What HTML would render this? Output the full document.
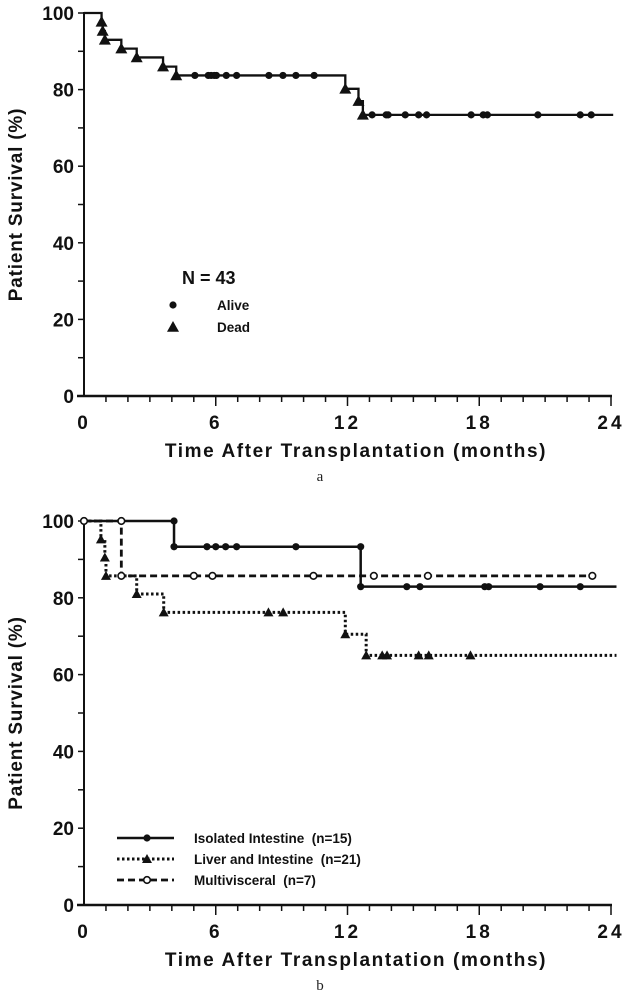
<!DOCTYPE html>
<html><head><meta charset="utf-8">
<style>
html,body{margin:0;padding:0;background:#fff;}
svg{display:block;font-family:"Liberation Sans",Arial,sans-serif;}
.tk{font-size:19px;font-weight:bold;fill:#111;}
.ttl{font-size:19px;font-weight:bold;fill:#111;}
.lg{font-size:13.5px;font-weight:bold;fill:#111;}
</style></head>
<body>
<svg id="chart" width="630" height="997" viewBox="0 0 630 997"></svg>
<script>
// ---- Panel a data ----
const aDeathT = [0.8,0.85,0.95,1.7,2.4,3.6,4.2,11.9,12.5,12.7];
const aDeathS = [97.7,95.3,93.0,90.7,88.4,86.0,83.7,80.2,77.0,73.4];
const aCensT = [5.05,5.66,5.79,5.93,6.03,6.48,6.95,8.42,9.06,9.65,10.48,13.12,13.76,13.85,14.63,15.24,15.6,17.63,18.18,18.37,20.67,22.6,23.1];
const aEnd = 24.1;
// ---- Panel b data ----
const isoDeathT = [4.1,12.6];
const isoDeathS = [93.3,82.9];
const isoCensT = [4.1,5.6,6.0,6.45,6.95,9.65,12.6,14.7,15.3,18.25,18.43,20.77,22.6];
const isoEnd = 24.25;
const livDeathT = [0.77,0.95,1.0,2.4,3.63,11.9,12.85];
const livDeathS = [95.2,90.5,85.7,81.0,76.2,70.5,65.0];
const livCensT = [8.4,9.07,13.58,13.8,15.24,15.7,17.6];
const livEnd = 24.25;
const mvDeathT = [1.7];
const mvDeathS = [85.7];
const mvCensT = [0,1.7,5.0,5.85,10.45,13.2,15.66,23.15];
const mvEnd = 23.15;
const yTicks = [0,20,40,60,80,100];
const xTicks = [0,6,12,18,24];

const NS="http://www.w3.org/2000/svg";
const svg=document.getElementById('chart');
function mk(tag,attrs,parent){const e=document.createElementNS(NS,tag);for(const k in attrs)e.setAttribute(k,attrs[k]);(parent||svg).appendChild(e);return e;}

function panel(top0, top100, label){
  const x0=84,x24=611;
  const X=t=>x0+(x24-x0)*t/24;
  const Y=v=>top0+(top100-top0)*v/100;
  const g=mk('g',{});
  
  
  const ya=mk('line',{x1:x0,y1:Y(100)-1,x2:x0,y2:Y(0),stroke:'#111','stroke-width':2},g);
  
  
  const xa=mk('line',{x1:x0-7,y1:Y(0),x2:x24+1,y2:Y(0),stroke:'#111','stroke-width':2.5},g);
  
  
  for(let v=0;v<=100;v+=10){mk('line',{x1:x0-6,y1:Y(v),x2:x0,y2:Y(v),stroke:'#111','stroke-width':1.5},g);}
  yTicks.forEach(v=>{const t=mk('text',{x:x0-10,y:Y(v)+7,'text-anchor':'end',class:'tk'},g);t.textContent=v;
    
    });
  for(let m=1;m<=24;m++){const big=m%6===0;mk('line',{x1:X(m),y1:Y(0),x2:X(m),y2:Y(0)+(big?10:6),stroke:'#111','stroke-width':1.5},g);}
  xTicks.forEach(v=>{const t=mk('text',{x:X(v),y:Y(0)+33,'text-anchor':'middle',class:'tk','letter-spacing':'3'},g);t.textContent=v;
    
    });
  const xt=mk('text',{x:356,y:Y(0)+61,'text-anchor':'middle',class:'ttl','font-size':'19.5','letter-spacing':'1.6'},g);
  xt.textContent='Time After Transplantation (months)';
  
  
  const yt=mk('text',{x:0,y:0,'text-anchor':'middle',class:'ttl',transform:`translate(22,${(Y(0)+Y(100))/2}) rotate(-90)`,'letter-spacing':'0.8'},g);
  yt.textContent='Patient Survival (%)';
  
  
  const cap=mk('text',{x:320,y:Y(0)+85,'text-anchor':'middle','font-family':'Liberation Serif,serif','font-size':'15',fill:'#222'},g);
  cap.textContent=label;
  
  
  return {X,Y,g};
}
function stepPath(P,dT,dS,end){
  let d=`M${P.X(0)},${P.Y(100)}`;
  dT.forEach((t,i)=>{d+=` H${P.X(t)} V${P.Y(dS[i])}`;});
  d+=` H${P.X(end)}`;return d;
}
function survAt(t,dT,dS){let s=100;dT.forEach((x,i)=>{if(x<=t)s=dS[i];});return s;}
function tri(P,x,y,r,g){return mk('polygon',{points:`${x},${y-r} ${x-r},${y+r*0.8} ${x+r},${y+r*0.8}`,fill:'#111'},g);}

// Panel a
const A=panel(396,13,'a');
const la=mk('path',{d:stepPath(A,aDeathT,aDeathS,aEnd),fill:'none',stroke:'#111','stroke-width':2.3},A.g);


aDeathT.forEach((t,i)=>{const m=tri(A,A.X(t),A.Y(aDeathS[i]),6,A.g);
  
  });
aCensT.forEach(t=>{const m=mk('circle',{cx:A.X(t),cy:A.Y(survAt(t,aDeathT,aDeathS)),r:3.6,fill:'#111'},A.g);
  
  });
const lgA=mk('g',{},A.g);


let t1=mk('text',{x:182,y:284,'font-size':'18','font-weight':'bold',fill:'#111'},lgA);t1.textContent='N = 43';


mk('circle',{cx:173,cy:305,r:3.6,fill:'#111'},lgA);
let t2=mk('text',{x:217,y:310,class:'lg'},lgA);t2.textContent='Alive';


tri(A,173,327,6,lgA);
let t3=mk('text',{x:217,y:332,class:'lg'},lgA);t3.textContent='Dead';



// Panel b
const B=panel(905,521,'b');
const li=mk('path',{d:stepPath(B,livDeathT,livDeathS,livEnd),fill:'none',stroke:'#111','stroke-width':3,'stroke-dasharray':'2.5,2.5'},B.g);


const mv=mk('path',{d:stepPath(B,mvDeathT,mvDeathS,mvEnd),fill:'none',stroke:'#111','stroke-width':2.8,'stroke-dasharray':'7,4'},B.g);


const iso=mk('path',{d:stepPath(B,isoDeathT,isoDeathS,isoEnd),fill:'none',stroke:'#111','stroke-width':2.5},B.g);


livDeathT.forEach((t,i)=>{const m=tri(B,B.X(t),B.Y(livDeathS[i]),5,B.g);
  
  });
livCensT.forEach(t=>{const m=tri(B,B.X(t),B.Y(survAt(t,livDeathT,livDeathS)),5,B.g);
  
  });
isoCensT.forEach(t=>{const m=mk('circle',{cx:B.X(t),cy:B.Y(survAt(t-0.001,isoDeathT,isoDeathS)),r:3.6,fill:'#111'},B.g);
  
  });
isoDeathT.forEach((t,i)=>{const m=mk('circle',{cx:B.X(t),cy:B.Y(isoDeathS[i]),r:3.6,fill:'#111'},B.g);
  
  });
mvCensT.forEach(t=>{const m=mk('circle',{cx:B.X(t),cy:B.Y(survAt(t-0.001,mvDeathT,mvDeathS)),r:3.3,fill:'#fff',stroke:'#111','stroke-width':1.6},B.g);
  
  });
mvDeathT.forEach((t,i)=>{const m=mk('circle',{cx:B.X(t),cy:B.Y(mvDeathS[i]),r:3.3,fill:'#fff',stroke:'#111','stroke-width':1.6},B.g);
  
  });
// legend b
const lgB=mk('g',{},B.g);


const rows=[['Isolated Intestine  (n=15)',838,'none',2.5],['Liver and Intestine  (n=21)',859,'2.5,2.5',3],['Multivisceral  (n=7)',880,'7,4',2.8]];
rows.forEach((r,i)=>{
  const e=mk('g',{},lgB);
  
  
  mk('line',{x1:117,y1:r[1],x2:174,y2:r[1],stroke:'#111','stroke-width':r[3],'stroke-dasharray':r[2]},e);
  if(i===0)mk('circle',{cx:147,cy:r[1],r:3.6,fill:'#111'},e);
  if(i===1)tri(B,147,r[1],5,e);
  if(i===2)mk('circle',{cx:147,cy:r[1],r:3.3,fill:'#fff',stroke:'#111','stroke-width':1.6},e);
  const t=mk('text',{x:194,y:r[1]+5,class:'lg'},e);t.textContent=r[0];
  t.style.whiteSpace='pre';
});
</script>
</body></html>
